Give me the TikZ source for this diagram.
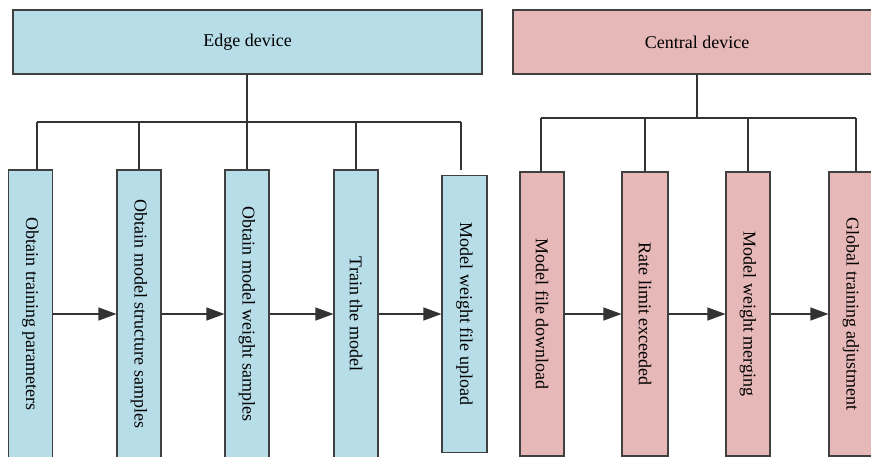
\documentclass[tikz,border=0pt]{standalone}
\usepackage{fontspec}
\setmainfont{Liberation Serif}
\usetikzlibrary{arrows.meta}
\definecolor{edgeblue}{RGB}{183,221,232}
\definecolor{centralpink}{RGB}{230,184,183}

\begin{document}
\begin{tikzpicture}[x=1pt,y=-1pt,
        font=\fontsize{18}{20}\selectfont,
        head/.style={draw=black!75,line width=1.1pt,minimum height=64pt,inner sep=0pt},
        task/.style={draw=black!75,line width=1.1pt,minimum width=44pt,minimum height=288pt,inner sep=0pt},
        link/.style={draw=black!80,line width=1.1pt},
        flow/.style={link,-{Triangle[length=18pt,width=13pt]}}]
        \useasboundingbox (0,0) rectangle (871,456);
        \clip (0,0) rectangle (871,456);

        % edge side
        \node [head,fill=edgeblue,minimum width=469pt] (edge) at (247.5,42) {Edge device};
        \node [task,fill=edgeblue] (e1) at (30.5,314) {\rotatebox{-90}{Obtain training parameters}};
        \node [task,fill=edgeblue] (e2) at (139,314) {\rotatebox{-90}{Obtain model structure samples}};
        \node [task,fill=edgeblue] (e3) at (247,314) {\rotatebox{-90}{Obtain model weight samples}};
        \node [task,fill=edgeblue] (e4) at (356,314) {\rotatebox{-90}{Train the model}};
        \node [task,fill=edgeblue,minimum width=45pt,minimum height=277pt] (e5) at (464.5,314) {\rotatebox{-90}{Model weight file upload}};

        \coordinate (ebar) at (247,122);
        \coordinate (ebarL) at (37,122);
        \coordinate (ebarR) at (461,122);
        \coordinate (e5top) at (461,170);
        \draw [link] (edge.south -| ebar) -- (ebar);
        \draw [link] (ebarL) -- (ebarR);
        \draw [link] (ebarL) -- (ebarL |- e1.north);
        \foreach \i in {2,3,4}
            \draw [link] (e\i.north |- ebar) -- (e\i.north);
        \draw [link] (ebarR) -- (e5top);

        \draw [flow] (e1) -- (e2);
        \draw [flow] (e2) -- (e3);
        \draw [flow] (e3) -- (e4);
        \draw [flow] (e4) -- (e5);

        % central side
        \node [head,fill=centralpink,minimum width=368pt] (central) at (697,42) {Central device};
        \node [task,fill=centralpink,minimum height=284pt] (c1) at (542,314) {\rotatebox{-90}{Model file download}};
        \node [task,fill=centralpink,minimum height=284pt,minimum width=46pt] (c2) at (645,314) {\rotatebox{-90}{Rate limit exceeded}};
        \node [task,fill=centralpink,minimum height=284pt] (c3) at (748,314) {\rotatebox{-90}{Model weight merging}};
        \node [task,fill=centralpink,minimum height=284pt] (c4) at (851,314) {\rotatebox{-90}{Global training adjustment}};

        \coordinate (cbar) at (697,118);
        \coordinate (cbarL) at (541,118);
        \coordinate (cbarR) at (856,118);
        \draw [link] (central) -- (cbar);
        \draw [link] (cbarL) -- (cbarR);
        \draw [link] (cbarL) -- (cbarL |- c1.north);
        \foreach \i in {2,3}
            \draw [link] (c\i.north |- cbar) -- (c\i.north);
        \draw [link] (cbarR) -- (cbarR |- c4.north);

        \draw [flow] (c1) -- (c2);
        \draw [flow] (c2) -- (c3);
        \draw [flow] (c3) -- (c4);
    \end{tikzpicture}
\end{document}
